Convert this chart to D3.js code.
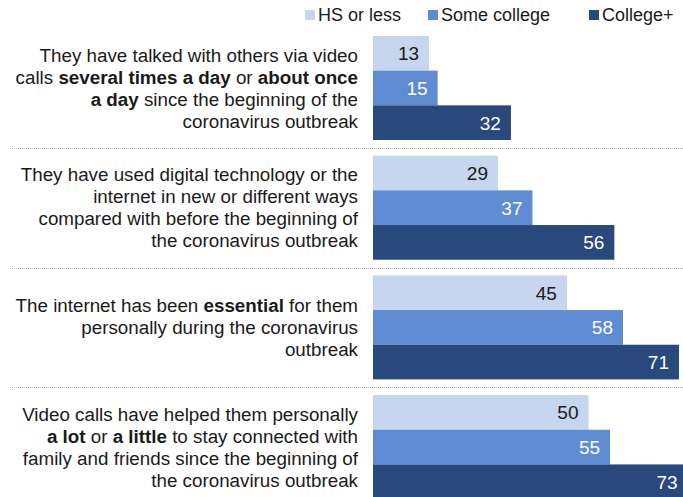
<!DOCTYPE html>
<html>
<head>
<meta charset="utf-8">
<script src="https://d3js.org/d3.v7.min.js"></script>
<style>
body{margin:0;background:#fff;}
svg{font-family:"Liberation Sans",Arial,sans-serif;}
</style>
</head>
<body>
<svg class="chart"></svg>
<script>
// data
var series=["HS or less","Some college","College+"];
var hsOrLess=[13,29,45,50];
var someCollege=[15,37,58,55];
var collegePlus=[32,56,71,73];
// question labels, one entry per line; *text* is bold
var questions=[
  ["They have talked with others via video","calls *several times a day* or *about once*","*a day* since the beginning of the","coronavirus outbreak"],
  ["They have used digital technology or the","internet in new or different ways","compared with before the beginning of","the coronavirus outbreak"],
  ["The internet has been *essential* for them","personally during the coronavirus","outbreak"],
  ["Video calls have helped them personally","*a lot* or *a little* to stay connected with","family and friends since the beginning of","the coronavirus outbreak"]
];

var width=683,height=497;
var colors=["#c6d6ee","#5f8bd2","#29487b"];
var textColors=["#1a1a1a","#ffffff","#ffffff"];

var chart=d3.select(".chart").attr("width",width).attr("height",height);

var x=d3.scaleLinear().domain([0,100]).range([373,804]);
var y=d3.scaleBand().domain(d3.range(questions.length)).range([36,36+3*119.7+104]).paddingInner(0.131).paddingOuter(0);
var sub=d3.scaleBand().domain(d3.range(series.length)).range([0,y.bandwidth()]);

var rows=questions.map(function(q,i){
  return {q:q,vals:[hsOrLess[i],someCollege[i],collegePlus[i]]};
});

// dotted separators
function sepY(i){return Math.round((y(i-1)+y.bandwidth()+y(i))/2)+0.5;}
chart.selectAll("line.sep").data(d3.range(1,questions.length)).enter()
  .append("line").attr("class","sep")
  .attr("x1",10).attr("x2",width)
  .attr("y1",sepY).attr("y2",sepY)
  .attr("stroke","#b5b5b5").attr("stroke-width",1).attr("stroke-dasharray","1,1");

var groups=chart.selectAll("g.q").data(rows).enter()
  .append("g").attr("class","q")
  .attr("transform",function(d,i){return "translate(0,"+y(i)+")";});

groups.selectAll("rect").data(function(d){return d.vals;}).enter()
  .append("rect")
  .attr("x",x(0))
  .attr("y",function(d,j){return sub(j);})
  .attr("width",function(d){return x(d)-x(0);})
  .attr("height",sub.bandwidth())
  .attr("fill",function(d,j){return colors[j];});

groups.selectAll("text.val").data(function(d){return d.vals;}).enter()
  .append("text").attr("class","val")
  .attr("x",function(d){return x(d)-10;})
  .attr("y",function(d,j){return sub(j)+sub.bandwidth()/2;})
  .attr("dy","0.36em")
  .attr("text-anchor","end")
  .attr("font-size","19px")
  .attr("fill",function(d,j){return textColors[j];})
  .text(function(d){return d;});

// question labels
var lineH=22;
groups.each(function(d){
  var g=d3.select(this);
  var n=d.q.length;
  var top=y.bandwidth()/2-(n-1)*lineH/2;
  d.q.forEach(function(line,k){
    var t=g.append("text")
      .attr("x",358).attr("y",top+k*lineH).attr("dy","0.36em")
      .attr("text-anchor","end").attr("font-size","18.8px").attr("fill","#1a1a1a");
    line.split("*").forEach(function(part,m){
      if(part==="")return;
      t.append("tspan").attr("font-weight",m%2?"bold":"normal").text(part);
    });
  });
});

// legend
var legendX=[305,428,589];
var legend=chart.selectAll("g.legend").data(series).enter()
  .append("g").attr("class","legend")
  .attr("transform",function(d,i){return "translate("+legendX[i]+",15)";});
legend.append("rect").attr("x",0).attr("y",-5).attr("width",10).attr("height",10)
  .attr("fill",function(d,i){return colors[i];});
legend.append("text").attr("x",13).attr("dy","0.36em").attr("font-size","18px")
  .attr("fill","#1a1a1a").text(function(d){return d;});
</script>
</body>
</html>
